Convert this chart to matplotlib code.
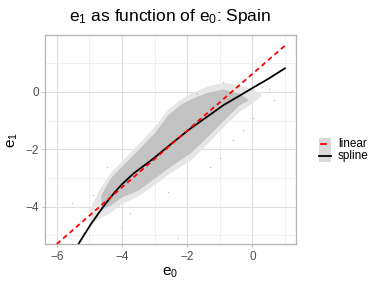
import matplotlib
matplotlib.use("Agg")
import matplotlib.pyplot as plt
from matplotlib.lines import Line2D
from matplotlib.patches import Rectangle

plt.rcParams['font.family'] = ['Liberation Sans', 'DejaVu Sans']
plt.rcParams['mathtext.fontset'] = 'custom'
plt.rcParams['mathtext.rm'] = 'Liberation Sans'
plt.rcParams['mathtext.it'] = 'Liberation Sans'

# ---- data ----
linear_x = [-6.0, 1.0]
linear_y = [-5.30, 1.61]

spline_x = [-5.40, -5.34, -4.97, -4.70, -4.46, -4.20, -4.0, -3.64, -3.03, -2.41, -1.9, -1.39, -0.88, -0.37, 0.15, 0.5, 1.0]
spline_y = [-5.42, -5.31, -4.64, -4.20, -3.83, -3.47, -3.22, -2.84, -2.32, -1.74, -1.28, -0.87, -0.46, -0.12, 0.23, 0.46, 0.82]

# dense part of the point cloud (envelope)
core_x = [-4.65, -4.36, -4.0, -3.5, -3.0, -2.6, -2.2, -1.9, -1.4, -0.9, -0.4, -0.15]
core_upper = [-3.6, -3.0, -2.58, -2.0, -1.42, -0.8, -0.43, -0.25, -0.02, 0.1, -0.05, -0.25]
core_lower = [-4.1, -3.95, -3.65, -3.42, -3.0, -2.66, -2.35, -2.12, -1.58, -1.0, -0.45, -0.3]

# sparser fringe of the cloud
fringe_x = [-5.0, -4.7, -4.36, -4.0, -3.5, -3.0, -2.6, -2.2, -1.9, -1.4, -0.9, -0.4, 0.0, 0.25]
fringe_upper = [-4.1, -3.4, -2.8, -2.4, -1.8, -1.2, -0.6, -0.25, -0.05, 0.2, 0.33, 0.25, 0.1, -0.05]
fringe_lower = [-4.6, -4.4, -4.2, -3.88, -3.62, -3.22, -2.88, -2.58, -2.38, -1.82, -1.22, -0.68, -0.38, -0.15]

outlier_x = [-5.54, -2.27, 0.65, 0.03, 0.29, -3.75, -4.77, -5.18, -4.47, -1.30, -1.71, -0.89, -0.28, -4.0, -0.58, -5.3, -4.9, -2.6, 0.5, -1.0]
outlier_y = [-3.88, -5.10, -0.29, -0.92, 0.18, -4.23, -4.35, -4.93, -2.61, -2.61, -0.05, 0.35, -1.33, -4.70, -1.68, -4.5, -3.6, -3.5, 0.1, -2.3]

x_ticks = [-6, -4, -2, 0]
y_ticks = [-4, -2, 0]
x_minor = [-5, -3, -1, 1]
y_minor = [-5, -3, -1, 1]
legend_labels = ["linear", "spline"]
legend_colors = ["red", "black"]

# ---- figure ----
fig = plt.figure(figsize=(3.84, 2.88), dpi=100)
ax = fig.add_axes([45/384, 1-244.3/288, (296-45)/384, (244.3-35)/288])

ax.set_xlim(-6.36, 1.34)
ax.set_ylim(-5.31, 1.98)

ax.set_xticks(x_ticks)
ax.set_yticks(y_ticks)
ax.set_xticks(x_minor, minor=True)
ax.set_yticks(y_minor, minor=True)
ax.set_xticklabels(['\u22126', '\u22124', '\u22122', '0'])
ax.set_yticklabels(['\u22124', '\u22122', '0'])
ax.grid(which='major', color='#DEDEDE', lw=0.8)
ax.grid(which='minor', color='#EBEBEB', lw=0.5)
ax.set_axisbelow(True)
for s in ax.spines.values():
    s.set_color('#B3B3B3')
    s.set_linewidth(0.9)
ax.tick_params(which='major', length=2.5, color='#B3B3B3', width=0.6,
               labelsize=8.5, labelcolor='#4D4D4D', pad=2)
ax.tick_params(which='minor', length=0)

ax.fill_between(fringe_x, fringe_lower, fringe_upper, color='#E6E6E6', lw=0, zorder=1)
ax.fill_between(core_x, core_lower, core_upper, color='#C2C2C2', lw=0, zorder=1.5)
ax.scatter(outlier_x, outlier_y, s=1.2, color='#C4C4C4', lw=0, zorder=1.6)

ax.plot(linear_x, linear_y, color='red', lw=1.3, dashes=(2.7, 2.0), zorder=3)
ax.plot(spline_x, spline_y, color='black', lw=1.3, zorder=2.5)

ax.set_xlabel(r'$\mathregular{e_0}$', fontsize=11, labelpad=2)
ax.set_ylabel(r'$\mathregular{e_1}$', fontsize=11, labelpad=4)
ax.set_title(r'$\mathregular{e_1}$ as function of $\mathregular{e_0}$: Spain', fontsize=12.5, pad=10)

# legend drawn manually
key_x0, key_w, key_h = 319/384, 11.7/384, 11.7/288
for i, (lab, col) in enumerate(zip(legend_labels, legend_colors)):
    yc = 1 - (144.2 + i*11.7)/288
    fig.add_artist(Rectangle((key_x0, yc - key_h/2), key_w, key_h, transform=fig.transFigure,
                             facecolor='#D9D9D9', edgecolor='none'))
    if col == 'red':
        fig.add_artist(Line2D([key_x0 + 1.5/384, key_x0 + 7/384], [yc, yc], transform=fig.transFigure,
                              color=col, lw=1.3))
    else:
        fig.add_artist(Line2D([key_x0, key_x0 + key_w], [yc, yc], transform=fig.transFigure,
                              color=col, lw=1.3))
    fig.text(338/384, yc, lab, fontsize=8.5, va='center', ha='left', color='black')

fig.savefig('out.png', dpi=100)
